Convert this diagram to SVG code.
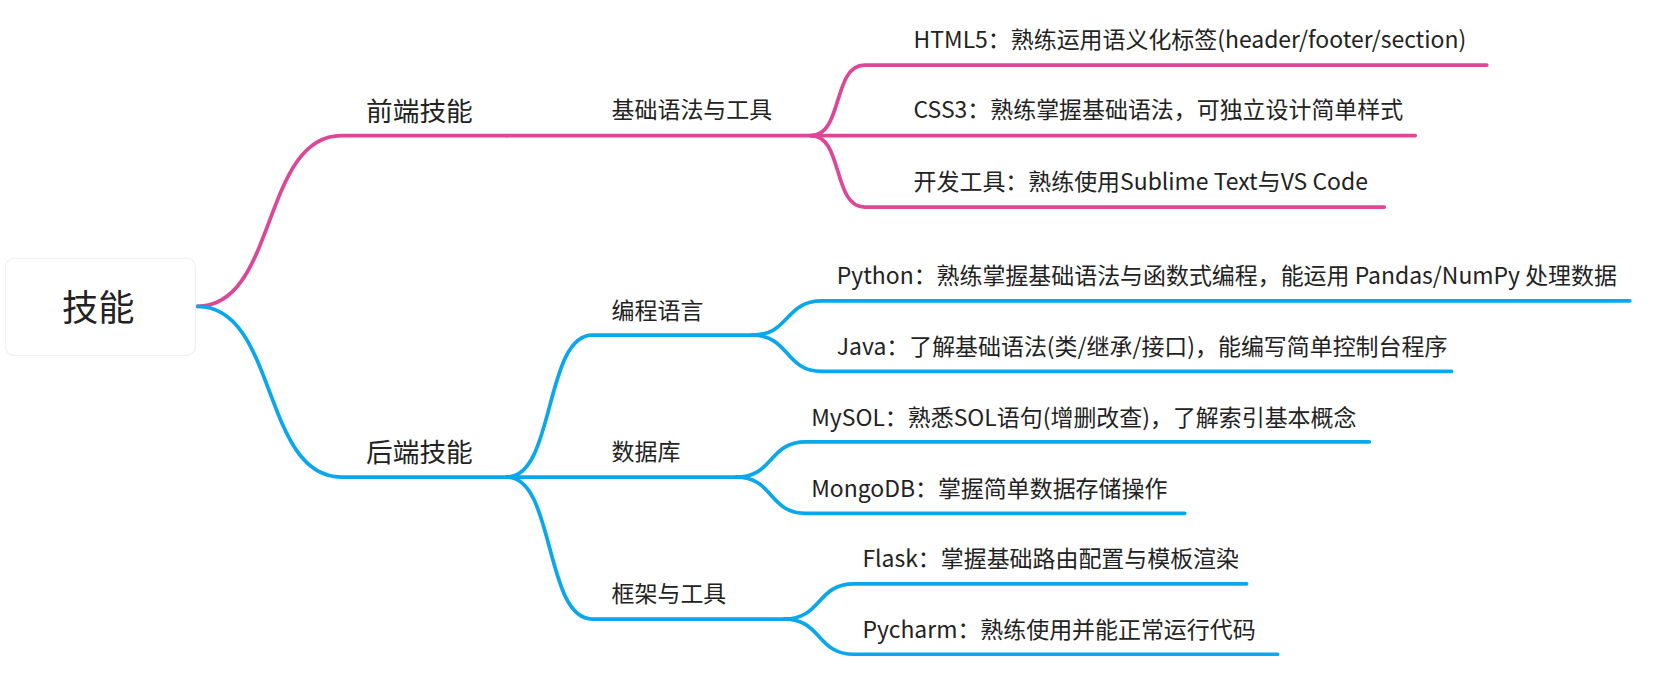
<svg xmlns="http://www.w3.org/2000/svg" width="1665" height="684" viewBox="0 0 1665 684">
<style>
text{font-family:"Noto Sans CJK SC","Noto Sans",sans-serif;fill:#222}
.l{font-size:21.5px}.m{font-size:25px}
.p{fill:none;stroke:#dc4797;stroke-width:3.5;stroke-linecap:round}
.b{fill:none;stroke:#0aa8ea;stroke-width:3.5;stroke-linecap:round}
</style>
<rect width="1665" height="684" fill="#fff"/>
<g transform="scale(1.0673)">
<g id="connectors">
<path class="p" d="M185 287 C260 287 245 127 320 127 H475"/>
<path class="p" d="M475 127 H760"/>
<path class="p" d="M760 127 C790 127 780 61 810 61 H1393"/>
<path class="p" d="M760 127 H1326"/>
<path class="p" d="M760 127 C790 127 780 194 810 194 H1297"/>
<path class="b" d="M185 287 C260 287 245 447 320 447 H475"/>
<path class="b" d="M475 447 C520 447 510 314 555 314 H705"/>
<path class="b" d="M475 447 H690"/>
<path class="b" d="M475 447 C520 447 510 580 555 580 H735"/>
<path class="b" d="M705 314 C740 314 735 282 770 282 H1527"/>
<path class="b" d="M705 314 C740 314 735 348 770 348 H1360"/>
<path class="b" d="M690 447 C725 447 720 414 755 414 H1283"/>
<path class="b" d="M690 447 C725 447 720 481 755 481 H1110"/>
<path class="b" d="M735 580 C770 580 765 547 800 547 H1168"/>
<path class="b" d="M735 580 C770 580 765 613 800 613 H1197"/>
</g>
<g id="root"><rect x="5" y="242" width="178" height="91" rx="8" fill="#fff" stroke="#eee" stroke-width="1"/><text x="92" y="301" font-size="34" text-anchor="middle">技能</text></g>
<g id="n1"><text class="m" x="343" y="113">前端技能</text></g>
<g id="n2"><text class="l" x="573" y="111">基础语法与工具</text></g>
<g id="n3"><text class="l" x="856" y="45">HTML5：熟练运用语义化标签(header/footer/section)</text></g>
<g id="n4"><text class="l" x="856" y="111">CSS3：熟练掌握基础语法，可独立设计简单样式</text></g>
<g id="n5"><text class="l" x="856" y="178">开发工具：熟练使用Sublime Text与VS Code</text></g>
<g id="n6"><text class="m" x="343" y="433">后端技能</text></g>
<g id="n7"><text class="l" x="573" y="299">编程语言</text></g>
<g id="n8"><text class="l" x="573" y="431">数据库</text></g>
<g id="n9"><text class="l" x="573" y="564">框架与工具</text></g>
<g id="n10"><text class="l" x="784" y="266">Python：熟练掌握基础语法与函数式编程，能运用 Pandas/NumPy 处理数据</text></g>
<g id="n11"><text class="l" x="784" y="333">Java：了解基础语法(类/继承/接口)，能编写简单控制台程序</text></g>
<g id="n12"><text class="l" x="760" y="399">MySOL：熟悉SOL语句(增删改查)，了解索引基本概念</text></g>
<g id="n13"><text class="l" x="760" y="466">MongoDB：掌握简单数据存储操作</text></g>
<g id="n14"><text class="l" x="808" y="531">Flask：掌握基础路由配置与模板渲染</text></g>
<g id="n15"><text class="l" x="808" y="598">Pycharm：熟练使用并能正常运行代码</text></g>
</g>
</svg>
